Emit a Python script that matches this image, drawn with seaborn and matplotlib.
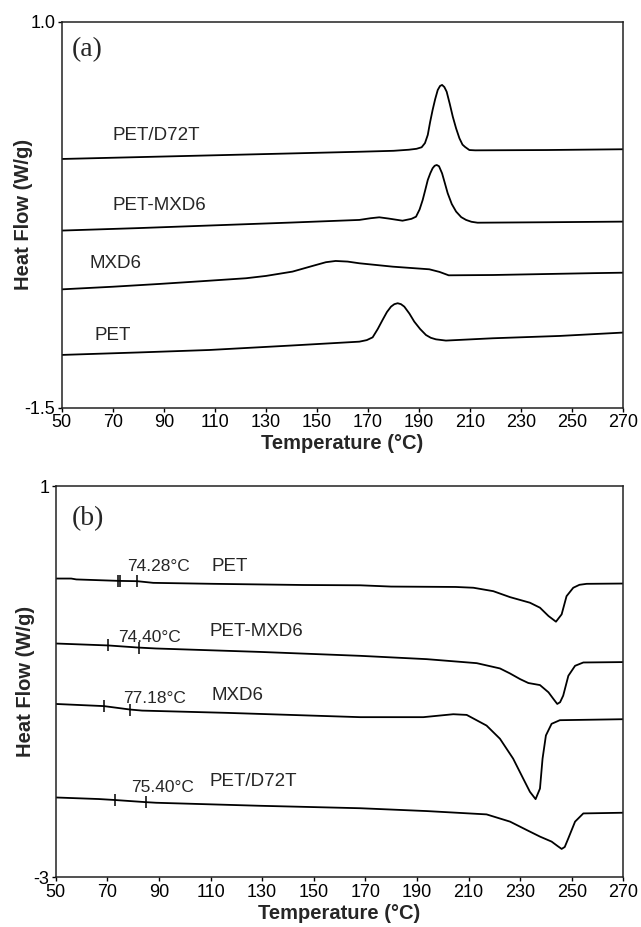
import numpy as np
import pandas as pd
import matplotlib
matplotlib.use("Agg")
import matplotlib.pyplot as plt
import seaborn as sns

# ---------------- data: (a) cooling scans ----------------
names_a = ["PET/D72T", "PET-MXD6", "MXD6", "PET"]

t_a_d72t = [50, 80, 110, 140, 167, 180, 186, 189, 191, 192.3, 193.4, 194.3, 195.3, 196.3,
            197.3, 198.2, 199, 199.9, 200.8, 202, 203.2, 204.5, 205.8, 207, 208, 209.7,
            212, 240, 270]
hf_a_d72t = [0.112, 0.124, 0.136, 0.148, 0.159, 0.165, 0.172, 0.178, 0.188, 0.215, 0.268,
             0.35, 0.430, 0.50, 0.559, 0.585, 0.592, 0.578, 0.548, 0.47, 0.386, 0.31,
             0.246, 0.205, 0.19, 0.170, 0.168, 0.170, 0.175]

t_a_blend = [50, 80, 110, 140, 166.6, 171, 174.4, 178, 183.5, 187, 188.8, 190.2, 191.4,
             192.4, 193.4, 194.4, 195.3, 196.1, 196.9, 197.8, 199, 200.1, 201.2, 202.8,
             204.5, 206.5, 208.4, 210.5, 212.9, 240, 270]
hf_a_blend = [-0.352, -0.336, -0.318, -0.300, -0.283, -0.272, -0.266, -0.274, -0.288,
              -0.276, -0.262, -0.215, -0.154, -0.09, -0.024, 0.02, 0.052, 0.068, 0.073,
              0.065, 0.019, -0.045, -0.110, -0.18, -0.229, -0.265, -0.283, -0.295, -0.301,
              -0.298, -0.294]

t_a_mxd6 = [50, 70, 88.2, 105, 122.2, 130, 140.4, 148.3, 153.5, 157.3, 162, 166.6, 179.7,
            194, 198, 201.6, 219, 258.2, 270]
hf_a_mxd6 = [-0.733, -0.716, -0.698, -0.680, -0.661, -0.646, -0.618, -0.581, -0.557,
             -0.549, -0.553, -0.564, -0.586, -0.603, -0.620, -0.642, -0.640, -0.628, -0.625]

t_a_pet = [50, 80, 107.8, 140, 166.6, 169.5, 171.8, 173.8, 175.7, 177.4, 179, 180.3, 181.6,
           182.9, 184.2, 186.2, 188.1, 190.4, 192.7, 194.6, 196.6, 200.5, 218.9, 245, 270]
hf_a_pet = [-1.158, -1.142, -1.126, -1.097, -1.072, -1.062, -1.044, -0.99, -0.931, -0.88,
            -0.845, -0.829, -0.823, -0.829, -0.845, -0.89, -0.942, -0.99, -1.029, -1.047,
            -1.057, -1.065, -1.050, -1.035, -1.013]

# ---------------- data: (b) second heating scans ----------------
names_b = ["PET", "PET-MXD6", "MXD6", "PET/D72T"]
tg_labels = ["74.28°C", "74.40°C", "77.18°C", "75.40°C"]

t_b_pet = [50, 56, 58, 74.7, 81.6, 87.8, 111.1, 146, 168, 180, 205, 211.9, 219.6, 226.1,
           233.8, 237.7, 241, 243.9, 246.1, 248, 250.6, 253, 255.8, 270]
hf_b_pet = [0.054, 0.054, 0.045, 0.03, 0.027, 0.010, 0.0, -0.012, -0.015, -0.028, -0.032,
            -0.04, -0.075, -0.136, -0.193, -0.244, -0.329, -0.387, -0.312, -0.126, -0.04,
            -0.01, 0.0, 0.003]

t_b_blend = [50, 70.4, 82.3, 88.9, 129.2, 168, 193.8, 213.2, 222.2, 226, 230, 233.2, 237.7,
             241, 243, 244.4, 245.5, 246.7, 248.7, 251.3, 254.5, 270]
hf_b_blend = [-0.610, -0.63, -0.652, -0.661, -0.696, -0.736, -0.770, -0.811, -0.865, -0.915,
              -0.974, -1.014, -1.035, -1.109, -1.18, -1.228, -1.21, -1.143, -0.940, -0.838,
              -0.804, -0.800]

t_b_mxd6 = [50, 68.7, 78.8, 83.5, 116.3, 168, 192.5, 204.1, 209.3, 217, 222.2, 227.3, 231.2,
            233.8, 236, 237.7, 238.7, 240, 242.2, 245.4, 270]
hf_b_mxd6 = [-1.228, -1.25, -1.285, -1.296, -1.319, -1.363, -1.363, -1.333, -1.34, -1.449,
             -1.584, -1.787, -1.991, -2.126, -2.201, -2.093, -1.787, -1.550, -1.431, -1.394,
             -1.384]

t_b_d72t = [50, 66.7, 73, 85, 88.9, 129.2, 168, 193.8, 217, 226.1, 232.5, 237.7, 242.2,
            244.5, 246.1, 247.3, 248.7, 251.3, 254.5, 270]
hf_b_d72t = [-2.184, -2.20, -2.21, -2.232, -2.238, -2.269, -2.294, -2.323, -2.357, -2.431,
             -2.516, -2.584, -2.635, -2.68, -2.710, -2.69, -2.601, -2.431, -2.347, -2.340]

# glass-transition onset / end markers on each heating trace
tg_marks = [[74.3, 75.0, 81.6], [70.4, 82.3], [68.7, 78.8], [73.0, 85.0]]

x_ticks = [50, 70, 90, 110, 130, 150, 170, 190, 210, 230, 250, 270]
y_ticks_a = [1.0, -1.5]
y_ticklabels_a = ["1.0", "-1.5"]
y_ticks_b = [1, -3]
y_ticklabels_b = ["1", "-3"]

# ---------------- styling ----------------
sns.set_style("ticks")
plt.rcParams["font.family"] = ["Liberation Sans", "DejaVu Sans"]
plt.rcParams["axes.unicode_minus"] = False

LW = 1.3
fig = plt.figure(figsize=(6.41, 9.27), dpi=100)
ax_a = fig.add_axes([0.0963, 0.5602, 0.8761, 0.4161])
ax_b = fig.add_axes([0.0869, 0.05362, 0.8855, 0.4221])


def draw(ax, t, hf):
    df = pd.DataFrame({"T": t, "HF": hf})
    sns.lineplot(data=df, x="T", y="HF", ax=ax, color="black", lw=LW,
                 estimator=None, sort=False)


for t, hf in [(t_a_d72t, hf_a_d72t), (t_a_blend, hf_a_blend),
              (t_a_mxd6, hf_a_mxd6), (t_a_pet, hf_a_pet)]:
    draw(ax_a, t, hf)

curves_b = [(t_b_pet, hf_b_pet), (t_b_blend, hf_b_blend),
            (t_b_mxd6, hf_b_mxd6), (t_b_d72t, hf_b_d72t)]
for (t, hf), marks in zip(curves_b, tg_marks):
    draw(ax_b, t, hf)
    ax_b.plot(marks, np.interp(marks, t, hf), ls="none", marker="|",
              ms=8, mew=1.1, color="black")

# curve labels
lab_fs = 13.5
ax_a.text(69.8, 0.261, names_a[0], fontsize=lab_fs, va="center", ha="left")
ax_a.text(69.8, -0.192, names_a[1], fontsize=lab_fs, va="center", ha="left")
ax_a.text(60.7, -0.568, names_a[2], fontsize=lab_fs, va="center", ha="left")
ax_a.text(63.0, -1.030, names_a[3], fontsize=lab_fs, va="center", ha="left")
ax_a.text(53.9, 0.818, "(a)", fontsize=20, va="center", ha="left",
          family=["Liberation Serif", "DejaVu Serif"])

name_pos_b = [(110.5, 0.179), (109.5, -0.492), (110.5, -1.143), (109.5, -2.018)]
tg_pos_b = [(77.5, 0.179), (74.3, -0.550), (76.0, -1.170), (79.1, -2.086)]
for name, (x, y) in zip(names_b, name_pos_b):
    ax_b.text(x, y, name, fontsize=lab_fs, va="center", ha="left")
for lab, (x, y) in zip(tg_labels, tg_pos_b):
    ax_b.text(x, y, lab, fontsize=12.5, va="center", ha="left")
ax_b.text(56.2, 0.671, "(b)", fontsize=20, va="center", ha="left",
          family=["Liberation Serif", "DejaVu Serif"])

# axes
for ax, yt, ytl, ylim, ylx, xly in [
        (ax_a, y_ticks_a, y_ticklabels_a, (-1.5, 1.0), -0.051, -0.068),
        (ax_b, y_ticks_b, y_ticklabels_b, (-3, 1), -0.0365, -0.0685)]:
    ax.set_xlim(50, 270)
    ax.set_ylim(*ylim)
    ax.set_xticks(x_ticks)
    ax.set_xticklabels([str(v) for v in x_ticks])
    ax.set_yticks(yt)
    ax.set_yticklabels(ytl)
    ax.tick_params(direction="out", length=3, width=1.0, labelsize=13,
                   pad=1.5, colors="black")
    for sp in ax.spines.values():
        sp.set_visible(True)
        sp.set_linewidth(1.1)
        sp.set_color("#222222")
    ax.set_xlabel("Temperature (°C)", fontsize=14.5, fontweight="bold")
    ax.set_ylabel("Heat Flow (W/g)", fontsize=14.5, fontweight="bold")
    ax.xaxis.set_label_coords(0.5, xly)
    ax.yaxis.set_label_coords(ylx, 0.5)

fig.savefig("out.png", dpi=100, facecolor="white")
